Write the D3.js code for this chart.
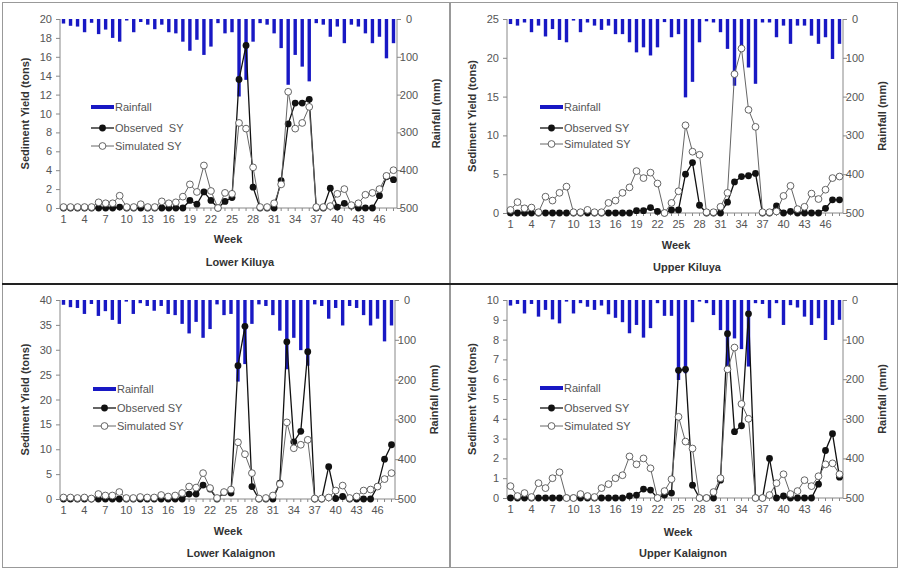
<!DOCTYPE html>
<html>
<head>
<meta charset="utf-8">
<script src="https://cdn.jsdelivr.net/npm/d3@7"></script>
<style>
  body { margin: 0; background: #fff; }
  svg { font-family: "Liberation Sans", Arial, sans-serif; }
  .tick text { fill: #555; font-size: 11px; }
  .axis path, .axis line { stroke: #888; }
</style>
</head>
<body>
<div id="chart"></div>
<script>
// weeks 1..48
var weeks = d3.range(1, 49);

// rainfall (mm)
var rainLower = [12,18,20,35,10,40,28,50,60,4,35,8,15,27,15,35,38,60,84,55,95,73,11,38,35,205,161,60,11,15,38,77,174,95,126,165,11,15,47,20,64,15,20,38,64,47,104,64];
var rainUpperKiluya = [13,17,9,34,17,45,26,54,60,4,34,9,17,28,17,39,39,60,86,73,94,73,8,47,39,202,162,60,6,9,34,77,172,82,125,167,9,9,47,17,64,17,17,43,64,47,103,64];
var rainUpperKalaignon = [14,10,34,10,42,25,49,59,4,34,8,17,25,14,36,45,56,84,63,95,71,8,40,40,202,185,56,4,8,38,76,168,97,124,168,8,10,46,8,63,13,19,42,63,46,101,63,50];

// sediment yield (tons)
var obsLowerKiluya = [0,0,0,0,0,0,0,0,0.1,0,0,0,0,0,0,0,0,0,0.8,0.4,1.7,0.8,0,0.7,1.1,13.6,17.2,2.2,0,0,0,2.9,8.9,11.1,11.1,11.5,0,0,2.1,0.1,0.5,0.2,0,0,0,1.3,3.3,3.0];
var simLowerKiluya = [0.1,0.1,0.1,0.1,0.1,0.6,0.5,0.5,1.3,0.1,0.1,0.4,0.1,0.1,0.7,0.5,0.6,1.2,2.5,1.7,4.5,1.8,0,1.6,1.5,9.0,8.4,4.3,0.1,0.1,0.5,2.5,12.3,8.4,9.0,10.7,0.1,0.1,0.2,1.5,2.0,0.3,0.5,1.4,1.6,2.0,3.4,4.0];

var obsUpperKiluya = [0,0,0,0,0,0,0,0,0,0,0,0,0,0,0,0,0,0,0.3,0.3,0.7,0.2,0,0.4,0.4,5.0,6.5,1.0,0,0,0,1.4,4.0,4.7,4.8,5.1,0,0,0.9,0,0.2,0,0,0,0,0.6,1.7,1.7];
var simUpperKiluya = [0.4,1.4,0.6,0.7,0.1,2.1,1.6,2.6,3.4,0.1,0.1,0.4,0.1,0.1,1.3,1.6,2.6,3.3,5.4,4.5,5.2,3.8,0,1.3,2.8,11.3,7.9,7.5,0.1,0.1,0.8,2.6,17.9,21.2,13.3,11.1,0.1,0.1,0.2,2.2,3.5,0.5,0.8,2.5,1.8,3.0,4.5,4.7];

var obsLowerKalaignon = [0,0,0,0,0,0,0,0,0,0,0,0,0,0,0,0,0,0,1.0,1.0,2.8,2.0,0,1.3,1.2,26.8,34.7,2.5,0,0,0,3.2,31.6,11.5,13.6,29.6,0,0,6.5,0.1,0.5,0,0,0,0,2.5,8.0,10.9];
var simLowerKalaignon = [0.3,0.3,0.2,0.3,0.1,1.0,0.7,0.7,1.4,0.2,0.2,0.4,0.3,0.3,0.8,0.5,0.7,1.2,2.5,2.3,5.2,2.2,0.2,1.4,1.9,11.4,9.0,5.2,0.1,0.2,0.7,3.0,15.4,10.2,10.9,11.9,0.1,0.1,0.3,1.7,2.7,0.2,0.5,1.7,1.9,2.5,4.0,5.2];

var obsUpperKalaignon = [0,0,0,0,0,0,0,0,0,0,0,0,0,0,0,0,0,0.1,0.15,0.45,0.4,0,0.15,0.25,6.45,6.5,0.65,0,0,0,0.9,8.3,3.35,3.65,9.3,0,0,2.0,0,0.1,0,0,0,0,0.7,2.4,3.25,1.05];
var simUpperKalaignon = [0.6,0.1,0.25,0.05,0.75,0.5,1.0,1.3,0,0,0.2,0.1,0.05,0.5,0.7,1.0,1.15,2.1,1.7,2.0,1.5,0,0.35,0.95,4.1,2.85,2.5,0,0,0.3,1.0,6.5,7.6,4.75,4.0,0,0,0.15,0.75,1.2,0.2,0.35,0.9,0.6,1.1,1.7,1.75,1.2];

var syTicks = {
    lk: d3.range(0, 21, 2),
    uk: d3.range(0, 26, 5),
    lka: d3.range(0, 41, 5),
    uka: d3.range(0, 11, 1)
};
var rainTicks = [0, 100, 200, 300, 400, 500];

var panels = [
    {name: "Lower Kiluya", rain: rainLower, obs: obsLowerKiluya, sim: simLowerKiluya, ymax: 20, ticks: syTicks.lk,
     box: {left: 60, right: 397, top: 19, bottom: 208}, weekY: 243, titleY: 266, titleX: 240, weekX: 228, legX: 91, legY: [107, 128, 146], obsLabel: "Observed  SY"},
    {name: "Upper Kiluya", rain: rainUpperKiluya, obs: obsUpperKiluya, sim: simUpperKiluya, ymax: 25, ticks: syTicks.uk,
     box: {left: 507, right: 843, top: 19, bottom: 213}, weekY: 249, titleY: 271, titleX: 687, weekX: 676, legX: 540, legY: [107, 128, 144], obsLabel: "Observed SY"},
    {name: "Lower Kalaignon", rain: rainLower, obs: obsLowerKalaignon, sim: simLowerKalaignon, ymax: 40, ticks: syTicks.lka,
     box: {left: 60, right: 395, top: 300, bottom: 499}, weekY: 535, titleY: 557, titleX: 231, weekX: 228, legX: 93, legY: [389, 408, 426], obsLabel: "Observed SY"},
    {name: "Upper Kalaignon", rain: rainUpperKalaignon, obs: obsUpperKalaignon, sim: simUpperKalaignon, ymax: 10, ticks: syTicks.uka,
     box: {left: 507, right: 843, top: 300, bottom: 498}, weekY: 536, titleY: 557, titleX: 683, weekX: 678, legX: 540, legY: [388, 408, 426], obsLabel: "Observed SY"}
];

var svg = d3.select("#chart").append("svg")
    .attr("width", 901)
    .attr("height", 570);

// frame and dividers
svg.append("rect")
    .attr("x", 2.5).attr("y", 2.5)
    .attr("width", 895).attr("height", 565)
    .attr("fill", "none").attr("stroke", "#999");
svg.append("line")
    .attr("x1", 450).attr("x2", 450).attr("y1", 2).attr("y2", 568)
    .attr("stroke", "#999").attr("stroke-width", 2);
svg.append("line")
    .attr("x1", 2).attr("x2", 898).attr("y1", 284).attr("y2", 284)
    .attr("stroke", "#222").attr("stroke-width", 2);

panels.forEach(function(p) {
    var b = p.box;
    var g = svg.append("g");

    var x = d3.scaleBand()
        .domain(weeks)
        .range([b.left, b.right]);

    var y = d3.scaleLinear()
        .domain([0, p.ymax])
        .range([b.bottom, b.top]);

    // rainfall axis is upside down, 0 at top
    var yr = d3.scaleLinear()
        .domain([0, 500])
        .range([b.top, b.bottom]);

    // rainfall bars hanging from the top
    g.selectAll(".bar")
        .data(p.rain)
        .enter().append("rect")
        .attr("class", "bar")
        .attr("x", function(d, i) { return x(weeks[i]) + x.bandwidth() / 2 - 1.7; })
        .attr("y", yr(0))
        .attr("width", 3.4)
        .attr("height", function(d) { return yr(d) - yr(0); })
        .attr("fill", "#1818c4");

    // axes
    g.append("g")
        .attr("class", "axis")
        .attr("transform", "translate(" + b.left + ",0)")
        .call(d3.axisLeft(y).tickValues(p.ticks).tickSize(4).tickPadding(4))
        .call(function(a) { a.select(".domain").attr("d", "M0," + b.top + "V" + b.bottom); });

    g.append("g")
        .attr("class", "axis")
        .attr("transform", "translate(" + b.right + ",0)")
        .call(d3.axisRight(yr).tickValues(rainTicks).tickSize(4).tickPadding(4))
        .call(function(a) {
            a.select(".domain").attr("d", "M0," + b.top + "V" + b.bottom);
            a.selectAll(".tick text").attr("text-anchor", "middle").attr("x", 12);
        });

    g.append("g")
        .attr("class", "axis")
        .attr("transform", "translate(0," + b.bottom + ")")
        .call(d3.axisBottom(x)
            .tickSize(3)
            .tickPadding(4)
            .tickFormat(function(w) { return (w - 1) % 3 === 0 ? w : ""; }))
        .call(function(a) { a.select(".domain").attr("d", "M" + b.left + ",0H" + b.right); });

    var line = d3.line()
        .x(function(d, i) { return x(weeks[i]) + x.bandwidth() / 2; })
        .y(function(d) { return y(d); });

    // observed
    g.append("path")
        .datum(p.obs)
        .attr("d", line)
        .attr("fill", "none")
        .attr("stroke", "#111")
        .attr("stroke-width", 1.3);
    g.selectAll(".obs")
        .data(p.obs)
        .enter().append("circle")
        .attr("class", "obs")
        .attr("cx", function(d, i) { return x(weeks[i]) + x.bandwidth() / 2; })
        .attr("cy", function(d) { return y(d); })
        .attr("r", 3.4)
        .attr("fill", "#111");

    // simulated
    g.append("path")
        .datum(p.sim)
        .attr("d", line)
        .attr("fill", "none")
        .attr("stroke", "#666")
        .attr("stroke-width", 1);
    g.selectAll(".sim")
        .data(p.sim)
        .enter().append("circle")
        .attr("class", "sim")
        .attr("cx", function(d, i) { return x(weeks[i]) + x.bandwidth() / 2; })
        .attr("cy", function(d) { return y(d); })
        .attr("r", 3.4)
        .attr("fill", "#fff")
        .attr("stroke", "#555")
        .attr("stroke-width", 0.9);

    // axis titles
    var midY = (b.top + b.bottom) / 2;
    g.append("text")
        .attr("transform", "translate(" + (b.left - 31) + "," + midY + ") rotate(-90)")
        .attr("text-anchor", "middle")
        .attr("font-size", 11).attr("font-weight", "bold").attr("fill", "#333")
        .text("Sediment Yield (tons)");
    g.append("text")
        .attr("transform", "translate(" + (b.right + 43) + "," + midY + ") rotate(-90)")
        .attr("text-anchor", "middle")
        .attr("font-size", 11).attr("font-weight", "bold").attr("fill", "#333")
        .text("Rainfall (mm)");
    g.append("text")
        .attr("x", p.weekX).attr("y", p.weekY)
        .attr("text-anchor", "middle")
        .attr("font-size", 11).attr("font-weight", "bold").attr("fill", "#333")
        .text("Week");
    g.append("text")
        .attr("x", p.titleX).attr("y", p.titleY)
        .attr("text-anchor", "middle")
        .attr("font-size", 11).attr("font-weight", "bold").attr("fill", "#333")
        .text(p.name);

    // legend
    var lx = p.legX, lw = 23;
    var leg = g.append("g").attr("font-size", 11).attr("fill", "#555");
    leg.append("rect")
        .attr("x", lx).attr("y", p.legY[0] - 2)
        .attr("width", lw).attr("height", 4)
        .attr("fill", "#1818c4");
    leg.append("text").attr("x", lx + lw + 1).attr("y", p.legY[0] + 4).text("Rainfall");

    leg.append("line")
        .attr("x1", lx).attr("x2", lx + lw).attr("y1", p.legY[1]).attr("y2", p.legY[1])
        .attr("stroke", "#111").attr("stroke-width", 1.3);
    leg.append("circle").attr("cx", lx + lw / 2).attr("cy", p.legY[1]).attr("r", 3.4).attr("fill", "#111");
    leg.append("text").attr("x", lx + lw + 1).attr("y", p.legY[1] + 4).attr("xml:space", "preserve").text(p.obsLabel);

    leg.append("line")
        .attr("x1", lx).attr("x2", lx + lw).attr("y1", p.legY[2]).attr("y2", p.legY[2])
        .attr("stroke", "#666").attr("stroke-width", 1);
    leg.append("circle").attr("cx", lx + lw / 2).attr("cy", p.legY[2]).attr("r", 3.4)
        .attr("fill", "#fff").attr("stroke", "#555").attr("stroke-width", 0.9);
    leg.append("text").attr("x", lx + lw + 1).attr("y", p.legY[2] + 4).text("Simulated SY");
});
</script>
</body>
</html>
